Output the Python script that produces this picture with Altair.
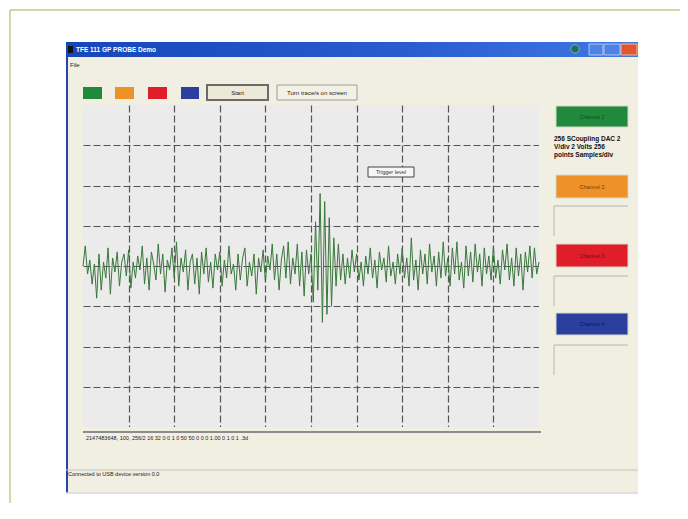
import altair as alt
import pandas as pd

# ---- data: probe trace (volts/div units, 20 samples per division)
signal = [
    0.0, 0.5, -0.2, 0.15, -0.45, 0.05, -0.8, 0.3, -0.6, 0.1, -0.3, 0.45, -0.7, 0.2, -0.15, 0.35, -0.5, 0.1, 0.3, -0.25,
    0.4, -0.55, 0.1, -0.3, 0.25, -0.1, 0.5, -0.45, 0.2, -0.6, 0.35, 0.05, -0.35, 0.55, -0.2, 0.3, -0.65, 0.15, -0.1, 0.45,
    -0.3, 0.6, -0.5, 0.2, -0.15, 0.4, -0.6, 0.1, 0.3, -0.45, 0.2, -0.7, 0.35, -0.2, 0.45, -0.4, 0.1, -0.55, 0.3, -0.1,
    0.35, -0.5, 0.15, -0.3, 0.5, -0.2, 0.05, -0.6, 0.3, -0.35, 0.2, 0.45, -0.5, 0.1, -0.25, 0.3, -0.7, 0.2, -0.15, 0.4,
    -0.4, 0.25, -0.1, 0.55, -0.35, 0.3, -0.6, 0.15, 0.5, -0.3, 0.6, -0.45, 0.2, -0.2, 0.55, -0.5, 0.35, -0.75, 0.4, -0.2,
    0.3, -0.9, 1.1, -0.6, 1.8, -1.4, 1.6, -1.2, 1.2, -1.0, 0.7, -0.5, 0.55, -0.35, 0.3, -0.45, 0.2, -0.3, 0.4, -0.15,
    0.3, -0.35, 0.1, -0.5, 0.25, -0.2, 0.45, -0.3, 0.15, -0.55, 0.35, -0.1, 0.2, -0.4, 0.5, -0.25, 0.1, -0.45, 0.3, -0.2,
    0.45, -0.3, 0.2, -0.5, 0.7, -0.35, 0.15, -0.6, 0.4, -0.2, 0.3, -0.45, 0.55, -0.15, 0.25, -0.5, 0.35, -0.3, 0.6, -0.25,
    0.2, -0.5, 0.45, -0.2, 0.6, -0.35, 0.1, -0.55, 0.5, -0.25, 0.35, -0.4, 0.55, -0.15, 0.3, -0.5, 0.45, -0.2, 0.25, -0.35,
    0.5, -0.3, 0.15, -0.45, 0.4, -0.1, 0.55, -0.35, 0.2, -0.5, 0.45, -0.25, 0.3, -0.6, 0.35, -0.15, 0.5, -0.3, 0.45, -0.2, 0.1,
]
divisions_x = list(range(1, 10))
divisions_y = [-3, -2, -1, 0, 1, 2, 3]
channel_colors = ["#1f8a3c", "#ee9228", "#e01e2a", "#2a3f9e"]
channel_text_colors = ["#0f4a20", "#7a3e05", "#7a0a10", "#101c55"]
channel_names = ["Channel 1", "Channel 2", "Channel 3", "Channel 4"]
window_title = "TFE 111 GP PROBE Demo"
menu_label = "File"
start_label = "Start"
toggle_label = "Turn trace/s on screen"
marker_label = "Trigger level"
info_lines = ["256 SCoupling DAC 2", "V/div 2  Volts 256", "points  Samples/div"]
status_line = "2147483648, 100, 256/2 16 32 0 0 1 0 50 50 0 0 0 1.00 0 1 0 1 .3d"
footer_line = "Connected to USB device version 0.0"

n = len(signal)
df = pd.DataFrame({"t": [i * 10 / (n - 1) for i in range(n)], "v": signal})

W, H = 456, 322
FONT = "Liberation Sans"
one = alt.Data(values=[{"k": 0}])


def box(x1, x2, y1, y2, **kw):
    return alt.Chart(one).mark_rect(**kw).encode(
        x=alt.value(x1), x2=alt.value(x2), y=alt.value(y1), y2=alt.value(y2))


def rule(x1, x2, y1, y2, **kw):
    return alt.Chart(one).mark_rule(**kw).encode(
        x=alt.value(x1), x2=alt.value(x2), y=alt.value(y1), y2=alt.value(y2))


def label(x, y, s, **kw):
    kw.setdefault("font", FONT)
    return alt.Chart(one).mark_text(**kw).encode(
        x=alt.value(x), y=alt.value(y), text=alt.value(s))


BEIGE = "#f1efe2"
layers = []
# outer page frame
layers.append(rule(-73, 605, -95, -95, color="#c9c98c", strokeWidth=1.5))
layers.append(rule(-73, -73, -95, 420, color="#c9c98c", strokeWidth=1.5))
# application window (drawn around the plot area)
layers.append(box(-17, 555, -63, 0, fill=BEIGE))
layers.append(box(-17, 555, H, 388, fill=BEIGE))
layers.append(box(-17, 0, 0, H, fill=BEIGE))
layers.append(box(W, 555, 0, H, fill=BEIGE))
layers.append(rule(-16, -16, -63, 388, color="#2546a8", strokeWidth=2))
layers.append(rule(-17, 555, 388, 388, color="#d8d8d8", strokeWidth=1.5))
layers.append(box(-17, 555, -63, -48, fill=alt.Gradient(
    gradient="linear", x1=0, x2=1, y1=0, y2=0,
    stops=[alt.GradientStop(color="#1646b8", offset=0),
           alt.GradientStop(color="#2a5cd0", offset=0.6),
           alt.GradientStop(color="#3f78e4", offset=1)])))
layers.append(box(-15, -10, -59, -52, fill="#111111"))
layers.append(label(-7, -55.5, window_title, color="white", fontSize=6.5, fontWeight="bold", align="left", baseline="middle"))
layers.append(alt.Chart(one).mark_point(filled=True, color="#1a6a2a", size=70, stroke="#8fd08f", strokeWidth=1).encode(
    x=alt.value(492), y=alt.value(-56)))
layers.append(box(506, 520, -61, -50, fill="#4f82e6", stroke="#c8d8f8", strokeWidth=0.8))
layers.append(box(521, 537, -61, -50, fill="#4f82e6", stroke="#c8d8f8", strokeWidth=0.8))
layers.append(box(538, 554, -61, -50, fill="#e0562e", stroke="#f8d0c0", strokeWidth=0.8))
layers.append(label(-13, -40, menu_label, color="#222", fontSize=6, align="left", baseline="middle"))

# channel colour squares
for (x1, x2), c in zip([(0, 19), (32, 51), (65, 84), (98, 116)], channel_colors):
    layers.append(box(x1, x2, -18, -6, fill=c))
# buttons
layers.append(box(124, 185, -20, -5, fill="#ece9d8", stroke="#6a6a6a", strokeWidth=2))
layers.append(label(154.5, -12.5, start_label, color="#222", fontSize=6, baseline="middle"))
layers.append(box(194, 274, -20, -5, fill="#f3f1e6", stroke="#9a9a9a", strokeWidth=1))
layers.append(label(234, -12.5, toggle_label, color="#222", fontSize=6, baseline="middle"))

# plot bottom frame and status texts
layers.append(rule(0, W + 2, H + 5, H + 5, color="#8c8c8c", strokeWidth=2))
layers.append(label(3, H + 11, status_line, color="#222", fontSize=5.5, align="left", baseline="middle"))
layers.append(rule(-17, 555, 365, 365, color="#c4c4bc", strokeWidth=1.2))
layers.append(label(-15, 369, footer_line, color="#222", fontSize=5.5, align="left", baseline="middle"))

# right-hand channel panel
panel_rows = [(1, 22), (70, 93), (139, 162), (208, 230)]
for (y1, y2), c, tc, nm in zip(panel_rows, channel_colors, channel_text_colors, channel_names):
    layers.append(box(473, 545, y1, y2, fill=c, stroke="#d8d6c8", strokeWidth=1))
    layers.append(label(509, (y1 + y2) / 2, nm, color=tc, fontSize=5.5, baseline="middle"))
for y1, y2 in [(101, 131), (171, 201), (240, 270)]:
    layers.append(rule(471, 545, y1, y1, color="#b0b4bc", strokeWidth=1))
    layers.append(rule(471, 471, y1, y2, color="#b8b8b0", strokeWidth=1))
for i, s in enumerate(info_lines):
    layers.append(label(471, 34 + 8 * i, s, color="#111", fontSize=6.5, fontWeight="bold", align="left", baseline="middle"))

# the trace itself, with the oscilloscope graticule as axis grid
grid = dict(grid=True, labels=False, ticks=False, domain=False, title=None,
            gridColor="#555555", gridDash=[7, 3], gridWidth=1.2)
trace = alt.Chart(df).mark_line(color="#3a773a", strokeWidth=1).encode(
    x=alt.X("t:Q", scale=alt.Scale(domain=[0, 10], nice=False, zero=False),
            axis=alt.Axis(values=divisions_x, **grid)),
    y=alt.Y("v:Q", scale=alt.Scale(domain=[-4, 4], nice=False, zero=False),
            axis=alt.Axis(values=divisions_y, **grid)),
)
layers.append(trace)

# on-screen marker label
layers.append(box(285, 331, 62, 72, fill="#f6f6f6", stroke="#444", strokeWidth=1))
layers.append(label(308, 67, marker_label, color="#333", fontSize=5.5, baseline="middle"))

chart = alt.layer(*layers).properties(
    width=W, height=H,
    autosize=alt.AutoSizeParams(type="none"),
    padding={"left": 75, "top": 97, "right": 141, "bottom": 76},
    background="#ffffff",
).configure_view(stroke=None, fill="#ebebeb")

chart.save("out.html", embed_options={"renderer": "svg", "actions": False})
